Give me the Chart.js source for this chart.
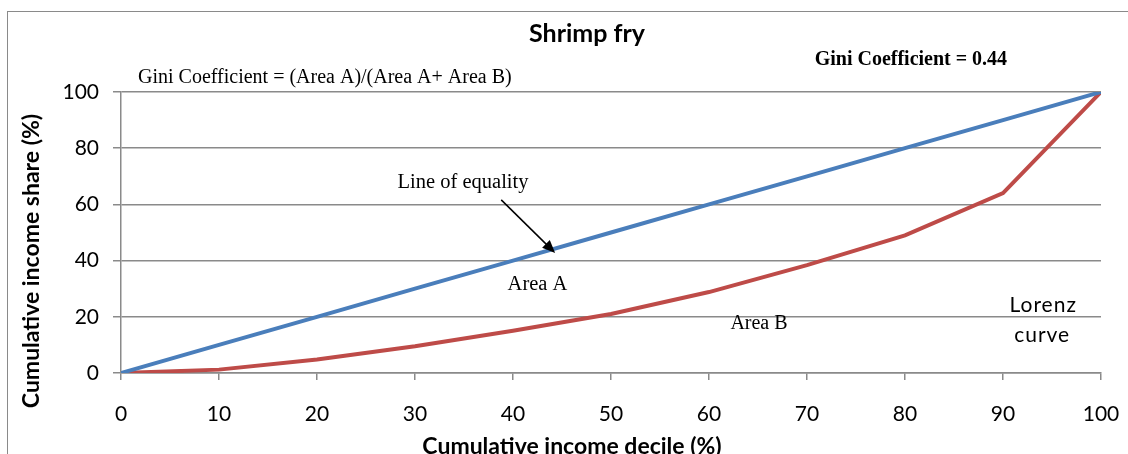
<!DOCTYPE html>
<html>
<head>
<meta charset="utf-8">
<script src="https://cdn.jsdelivr.net/npm/chart.js@4/dist/chart.umd.min.js"></script>
<style>
  html, body { margin: 0; padding: 0; background: #fff; overflow: hidden; }
  #wrap { position: relative; width: 1128px; height: 454px; overflow: hidden; }
  #frame { position: absolute; left: 7px; top: 11px; width: 1200px; height: 600px; border: 1.5px solid #8a8a8a; box-sizing: border-box; }
  #box { position: absolute; left: 0; top: 0; width: 1128px; height: 470px; }
</style>
</head>
<body>
<div id="wrap">
  <div id="frame"></div>
  <div id="box"><canvas id="giniChart"></canvas></div>
</div>
<script>
  // Podaci
  const deciles = [0, 10, 20, 30, 40, 50, 60, 70, 80, 90, 100];
  const equality = [0, 10, 20, 30, 40, 50, 60, 70, 80, 90, 100];
  const lorenz = [0, 1.2, 4.8, 9.5, 15, 21, 28.8, 38.4, 49, 64, 100];
  const yTicks = [0, 20, 40, 60, 80, 100];

  const chartTitle = 'Shrimp fry';
  const xTitle = 'Cumulative income decile (%)';
  const yTitle = 'Cumulative income share (%)';

  // Tekstovi na grafu (u koordinatama podataka)
  const notes = [
    { text: 'Gini Coefficient = (Area A)/(Area A+ Area B)', x: 20.8, y: 105, font: '20px "Liberation Serif"' },
    { text: 'Gini Coefficient = 0.44', x: 80.6, y: 111.3, font: 'bold 20px "Liberation Serif"' },
    { text: 'Line of equality', x: 34.9, y: 67.6, font: '20.5px "Liberation Serif"' },
    { text: 'Area A', x: 42.5, y: 31.6, font: '20.5px "Liberation Serif"' },
    { text: 'Area B', x: 65.1, y: 17.5, font: '20px "Liberation Serif"' },
    { text: 'Lorenz', x: 94.1, y: 24.0, font: '21px Lato', spacing: '1px' },
    { text: 'curve', x: 94.0, y: 13.4, font: '21px Lato', spacing: '1px' }
  ];
  const arrowFrom = { x: 38.8, y: 61.6 };
  const arrowTo = { x: 44.3, y: 42.7 };

  const notesPlugin = {
    id: 'notes',
    afterDatasetsDraw(chart) {
      const { ctx, scales: { x, y } } = chart;
      ctx.save();
      ctx.fillStyle = '#000';
      ctx.textAlign = 'center';
      ctx.textBaseline = 'middle';
      notes.forEach(n => {
        ctx.font = n.font;
        ctx.letterSpacing = n.spacing || '0px';
        ctx.fillText(n.text, x.getPixelForValue(n.x), y.getPixelForValue(n.y));
      });
      ctx.letterSpacing = '0px';

      // naslovi
      ctx.font = 'bold 25px Lato';
      ctx.fillText(chartTitle, 587, 34);
      ctx.font = 'bold 23px Lato';
      ctx.fillText(xTitle, 572, 447);
      ctx.save();
      ctx.translate(32, 261);
      ctx.rotate(-Math.PI / 2);
      ctx.fillText(yTitle, 0, 0);
      ctx.restore();

      // strelica
      const x1 = x.getPixelForValue(arrowFrom.x), y1 = y.getPixelForValue(arrowFrom.y);
      const x2 = x.getPixelForValue(arrowTo.x), y2 = y.getPixelForValue(arrowTo.y);
      const ang = Math.atan2(y2 - y1, x2 - x1);
      const head = 14;
      ctx.strokeStyle = '#000';
      ctx.lineWidth = 1.5;
      ctx.beginPath();
      ctx.moveTo(x1, y1);
      ctx.lineTo(x2 - Math.cos(ang) * head * 0.8, y2 - Math.sin(ang) * head * 0.8);
      ctx.stroke();
      ctx.beginPath();
      ctx.moveTo(x2, y2);
      ctx.lineTo(x2 - head * Math.cos(ang - 0.4), y2 - head * Math.sin(ang - 0.4));
      ctx.lineTo(x2 - head * Math.cos(ang + 0.4), y2 - head * Math.sin(ang + 0.4));
      ctx.closePath();
      ctx.fill();
      ctx.restore();
    }
  };

  const ctx = document.getElementById('giniChart').getContext('2d');
  new Chart(ctx, {
    type: 'line',
    data: {
      datasets: [
        {
          label: 'Line of equality',
          data: deciles.map((d, i) => ({ x: d, y: equality[i] })),
          borderColor: '#4a7ebb',
          borderWidth: 4,
          pointRadius: 0,
          tension: 0
        },
        {
          label: 'Lorenz curve',
          data: deciles.map((d, i) => ({ x: d, y: lorenz[i] })),
          borderColor: '#be4b48',
          borderWidth: 4,
          pointRadius: 0,
          tension: 0
        }
      ]
    },
    options: {
      responsive: true,
      maintainAspectRatio: false,
      animation: false,
      layout: { padding: { left: 0, right: 27, top: 92, bottom: 0 } },
      plugins: {
        legend: { display: false },
        tooltip: { enabled: false },
        title: { display: false }
      },
      scales: {
        x: {
          type: 'linear',
          min: 0,
          max: 100,
          afterBuildTicks: s => { s.ticks = deciles.map(v => ({ value: v })); },
          afterFit: s => { s.height = 97; s.paddingLeft = 0; s.paddingRight = 0; },
          grid: { drawOnChartArea: false, drawTicks: true, tickLength: 7, color: '#8a8a8a', lineWidth: 1.5 },
          border: { color: '#8a8a8a', width: 1.5 },
          ticks: { color: '#000', font: { family: 'Lato', size: 21 }, padding: 22, maxRotation: 0 }
        },
        y: {
          min: 0,
          max: 100,
          afterBuildTicks: s => { s.ticks = yTicks.map(v => ({ value: v })); },
          afterFit: s => { s.width = 121; },
          grid: { color: '#8a8a8a', lineWidth: 1.5, tickLength: 8 },
          border: { color: '#8a8a8a', width: 1.5 },
          ticks: { color: '#000', font: { family: 'Lato', size: 21 }, padding: 14 }
        }
      }
    },
    plugins: [notesPlugin]
  });
</script>
</body>
</html>
